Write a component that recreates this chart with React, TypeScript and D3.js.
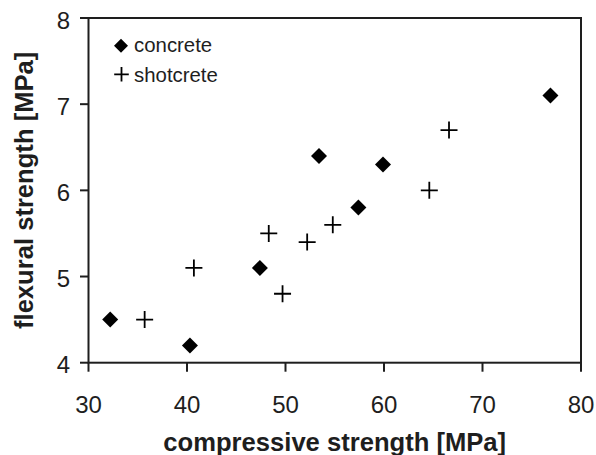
import React from "react";
import * as d3 from "d3";

const concreteX = [32.2, 40.3, 47.4, 53.4, 59.9, 57.4, 76.9];
const concreteY = [4.5, 4.2, 5.1, 6.4, 6.3, 5.8, 7.1];
const shotcreteX = [35.7, 40.7, 48.3, 49.7, 52.2, 54.8, 64.6, 66.6];
const shotcreteY = [4.5, 5.1, 5.5, 4.8, 5.4, 5.6, 6.0, 6.7];
const xTicks = [30, 40, 50, 60, 70, 80];
const yTicks = [4, 5, 6, 7, 8];
const seriesNames = ["concrete", "shotcrete"];

const W = 596;
const H = 455;
const L = 88.5, R = 581, T = 18, B = 362.7;
const FONT = "'Liberation Sans', Arial, sans-serif";
const INK = "#1e1e1e";

function diamond(r: number) {
  return `M0,${-r}L${r},0L0,${r}L${-r},0Z`;
}
function plus(r: number) {
  return `M${-r},0H${r}M0,${-r}V${r}`;
}

export default function App() {
  const x = d3.scaleLinear().domain([30, 80]).range([L, R]);
  const y = d3.scaleLinear().domain([4, 8]).range([B, T]);
  return (
    <svg width={W} height={H} style={{ display: "block", position: "absolute", left: 0, top: 0 }}>
      <rect x={0} y={0} width={W} height={H} fill="#fff" />
      <rect x={L} y={T} width={R - L} height={B - T} fill="none" stroke={INK} strokeWidth={2} />
      {xTicks.map((t) => (
        <g key={"x" + t}>
          <line x1={x(t)} x2={x(t)} y1={B} y2={B + 9} stroke={INK} strokeWidth={2} />
          <text x={x(t)} y={B + 50} textAnchor="middle" fontFamily={FONT} fontSize={24} fill={INK}>{t}</text>
        </g>
      ))}
      {yTicks.map((t) => (
        <g key={"y" + t}>
          <line x1={L - 8.5} x2={L} y1={y(t)} y2={y(t)} stroke={INK} strokeWidth={2} />
          <text x={70} y={y(t) + 10.5} textAnchor="end" fontFamily={FONT} fontSize={24} fill={INK}>{t}</text>
        </g>
      ))}
      {concreteX.map((v, i) => (
        <path key={"c" + i} d={diamond(8)} transform={`translate(${x(v)},${y(concreteY[i])})`} fill="#000" />
      ))}
      {shotcreteX.map((v, i) => (
        <path key={"s" + i} d={plus(8.5)} transform={`translate(${x(v)},${y(shotcreteY[i])})`} fill="none" stroke="#000" strokeWidth={1.8} />
      ))}
      <path d={diamond(7)} transform="translate(121,45.7)" fill="#000" />
      <text x={134} y={52.3} fontFamily={FONT} fontSize={20.4} fill={INK}>{seriesNames[0]}</text>
      <path d={plus(7.3)} transform="translate(121.5,74.3)" fill="none" stroke="#000" strokeWidth={1.8} />
      <text x={134} y={81.7} fontFamily={FONT} fontSize={20.4} fill={INK}>{seriesNames[1]}</text>
      <text x={(L + R) / 2} y={450.5} textAnchor="middle" fontFamily={FONT} fontSize={25.6} fontWeight="bold" fill={INK}>compressive strength [MPa]</text>
      <text transform={`translate(33,${(T + B) / 2}) rotate(-90)`} textAnchor="middle" fontFamily={FONT} fontSize={25.6} fontWeight="bold" fill={INK}>flexural strength [MPa]</text>
    </svg>
  );
}
